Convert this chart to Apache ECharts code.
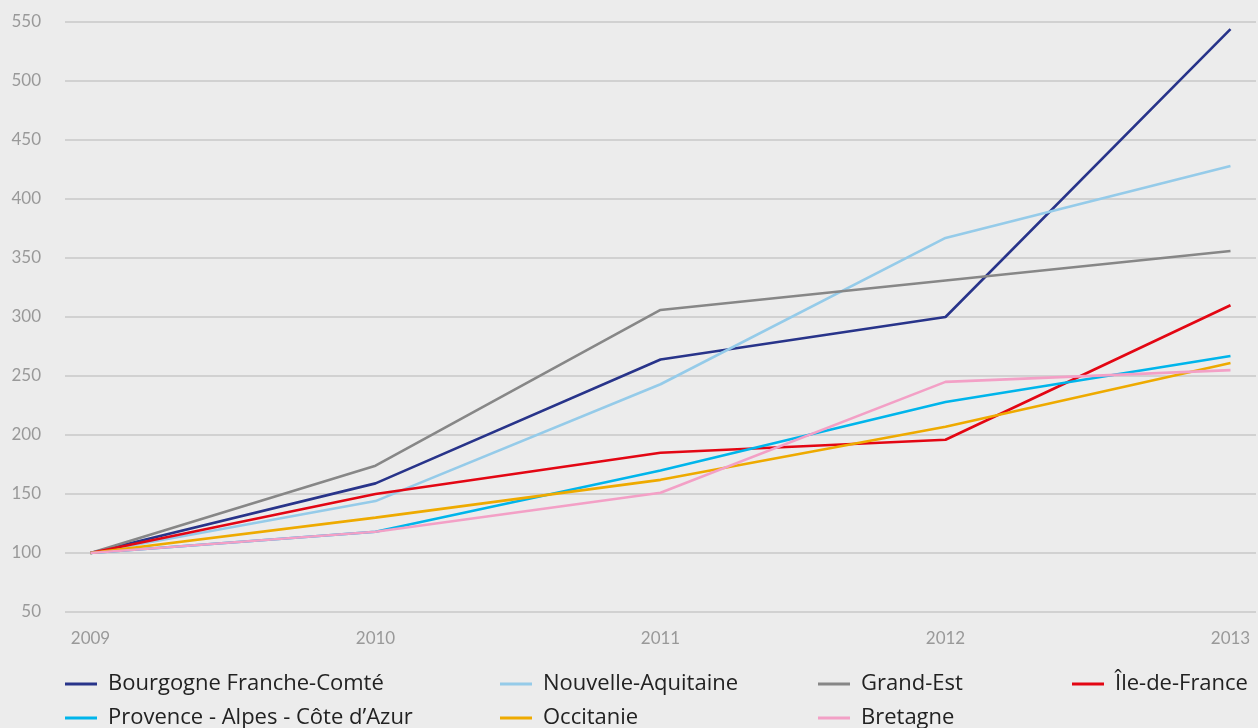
<!DOCTYPE html>
<html>
<head>
<meta charset="utf-8">
<script src="https://cdn.jsdelivr.net/npm/echarts@6/dist/echarts.min.js"></script>
<style>
  html, body { margin: 0; padding: 0; background: #ececec; }
  #chart { width: 1258px; height: 728px; }
</style>
</head>
<body>
<div id="chart"></div>
<script>
const years = [2009, 2010, 2011, 2012, 2013]
const yTicks = [50, 550, 50] // min, max, interval

const bourgogne = [100, 159, 264, 300, 544]
const nouvelleAquitaine = [100, 144, 243, 367, 428]
const grandEst = [100, 174, 306, 331, 356]
const ileDeFrance = [100, 150, 185, 196, 310]
const provence = [100, 118, 170, 228, 267]
const occitanie = [100, 130, 162, 207, 261]
const bretagne = [100, 118, 151, 245, 255]

const seriesDefs = [
  { name: 'Bourgogne Franche-Comté', data: bourgogne, color: '#28348a' },
  { name: 'Nouvelle-Aquitaine', data: nouvelleAquitaine, color: '#95cbe9' },
  { name: 'Grand-Est', data: grandEst, color: '#878787' },
  { name: 'Île-de-France', data: ileDeFrance, color: '#e30613' },
  { name: 'Provence - Alpes - Côte d’Azur', data: provence, color: '#00b5eb' },
  { name: 'Occitanie', data: occitanie, color: '#eeaa00' },
  { name: 'Bretagne', data: bretagne, color: '#f3a0c6' }
]

const font = 'Lato, "Open Sans", sans-serif'
const legendFont = '"Open Sans", Lato, sans-serif'

// one legend per column so the columns line up like the original
const legendCols = [
  { left: 65, names: [seriesDefs[0].name, seriesDefs[4].name] },
  { left: 500, names: [seriesDefs[1].name, seriesDefs[5].name] },
  { left: 818, names: [seriesDefs[2].name, seriesDefs[6].name] },
  { left: 1072, names: [seriesDefs[3].name] }
]

const chart = echarts.init(document.getElementById('chart'))
chart.setOption({
  backgroundColor: '#ececec',
  animation: false,
  grid: { left: 65, right: 2, top: 22, bottom: 116 },
  xAxis: {
    type: 'value',
    min: 2008.9105,
    max: 2013.0895,
    axisLine: { show: false },
    axisTick: { show: false },
    splitLine: { show: false },
    axisLabel: {
      customValues: years,
      formatter: v => String(v),
      color: '#999',
      fontSize: 17,
      fontFamily: font,
      margin: 18
    }
  },
  yAxis: {
    type: 'value',
    min: yTicks[0],
    max: yTicks[1],
    interval: yTicks[2],
    axisLine: { show: false },
    axisTick: { show: false },
    splitLine: { lineStyle: { color: '#c8c8c8', width: 1.5 } },
    axisLabel: { color: '#999', fontSize: 17, fontFamily: font, margin: 24 }
  },
  legend: legendCols.map(c => ({
    data: c.names,
    orient: 'vertical',
    left: c.left,
    top: 673,
    height: 80,
    padding: 0,
    itemGap: 12,
    itemWidth: 32,
    itemHeight: 3,
    icon: 'rect',
    textStyle: { color: '#222', fontSize: 22, fontFamily: legendFont, lineHeight: 22, padding: [0, 0, 0, 6] }
  })),
  series: seriesDefs.map(s => ({
    name: s.name,
    type: 'line',
    data: years.map((y, i) => [y, s.data[i]]),
    symbol: 'none',
    color: s.color,
    lineStyle: { color: s.color, width: 2.6 }
  }))
})
</script>
</body>
</html>
